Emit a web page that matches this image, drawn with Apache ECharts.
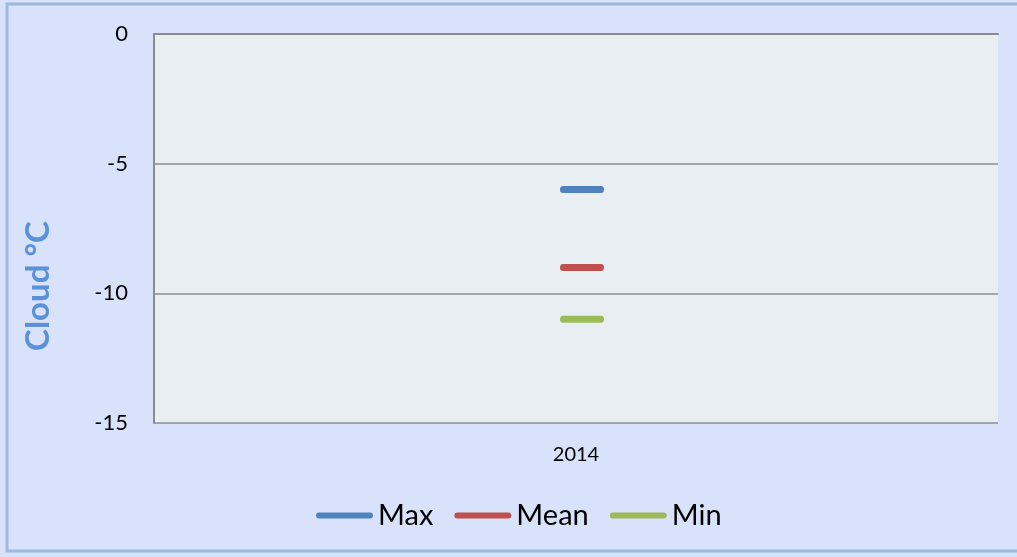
<!DOCTYPE html>
<html>
<head>
<meta charset="utf-8">
<script src="https://cdn.jsdelivr.net/npm/echarts@6/dist/echarts.min.js"></script>
<style>
  html, body { margin: 0; padding: 0; }
  #chart { width: 1017px; height: 557px; }
</style>
</head>
<body>
<div id="chart"></div>
<script>
const categories = ['2014'];
const maxValues = [-6];
const meanValues = [-9];
const minValues = [-11];
const yTicks = { min: -15, max: 0, interval: 5 };

// capsule shaped dash, like the excel "dash" marker
const capsule = 'path://M3,0 L41,0 A3,3 0 0 1 41,6 L3,6 A3,3 0 0 1 3,0 Z';
// wider capsule for the legend line
const legendLine = 'path://M3,0 L54,0 A3,3 0 0 1 54,6 L3,6 A3,3 0 0 1 3,0 Z';

const chart = echarts.init(document.getElementById('chart'));

function dashSeries(name, data, color) {
  return {
    name,
    type: 'line',
    data,
    symbol: capsule,
    symbolSize: [44, 7],
    symbolKeepAspect: false,
    symbolOffset: [6, 0],
    lineStyle: { width: 0 },
    itemStyle: { color },
    emphasis: { disabled: true },
    silent: true
  };
}

const option = {
  animation: false,
  backgroundColor: '#d9e2fb',
  textStyle: { fontFamily: 'Lato, sans-serif' },
  graphic: [
    {
      type: 'rect',
      shape: { x: 7, y: 4, width: 1020, height: 547 },
      style: { fill: 'none', stroke: '#9cb9de', lineWidth: 3 },
      silent: true
    },
    {
      type: 'text',
      x: 38,
      y: 286,
      rotation: Math.PI / 2,
      style: {
        text: 'Cloud °C',
        fill: '#5a91d8',
        font: 'bold 33px Lato, sans-serif',
        textAlign: 'center',
        textVerticalAlign: 'middle'
      }
    }
  ],
  grid: {
    left: 154,
    top: 34,
    right: 19,
    bottom: 134,
    show: true,
    backgroundColor: '#e9eef3',
    borderWidth: 0
  },
  legend: {
    left: 311,
    top: 496,
    icon: legendLine,
    itemWidth: 57,
    itemHeight: 6,
    itemGap: 21,
    textStyle: { fontSize: 29, color: '#000', fontFamily: 'Lato, sans-serif' },
    data: ['Max', 'Mean', 'Min']
  },
  xAxis: {
    type: 'category',
    data: categories,
    axisTick: { show: false },
    axisLine: { lineStyle: { color: '#8c8c8c', width: 2 } },
    axisLabel: { fontSize: 20, color: '#000', margin: 22 }
  },
  yAxis: {
    type: 'value',
    min: yTicks.min,
    max: yTicks.max,
    interval: yTicks.interval,
    axisLine: { show: true, lineStyle: { color: '#8c8c8c', width: 2 } },
    axisTick: { show: false },
    axisLabel: { fontSize: 22, color: '#000', margin: 26 },
    splitLine: { lineStyle: { color: '#8c8c8c', width: 1.5 } }
  },
  series: [
    dashSeries('Max', maxValues, '#4f81bd'),
    dashSeries('Mean', meanValues, '#c0504d'),
    dashSeries('Min', minValues, '#9bbb59')
  ]
};

chart.setOption(option);
</script>
</body>
</html>
